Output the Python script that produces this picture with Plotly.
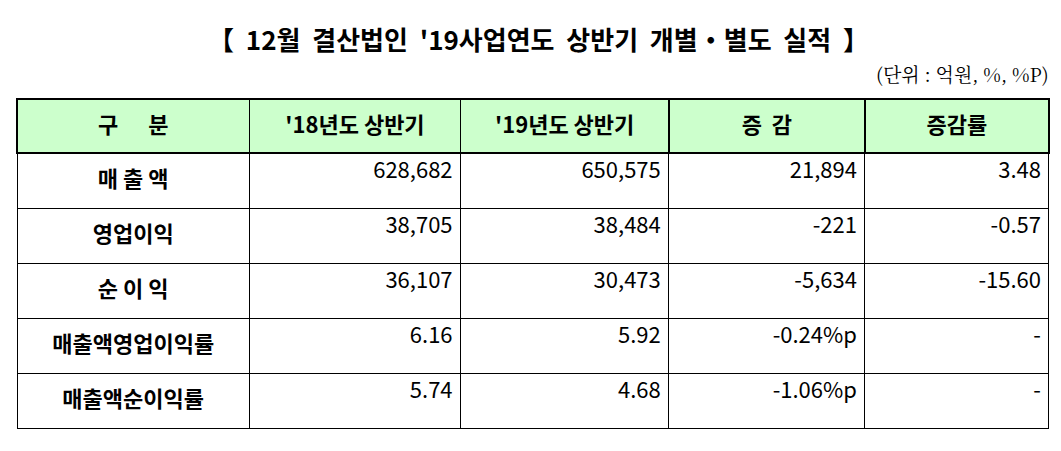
import plotly.graph_objects as go

headers = ["구      분", "'18년도 상반기", "'19년도 상반기", "증  감", "증감률"]
items = ["매 출 액", "영업이익", "순 이 익", "매출액영업이익률", "매출액순이익률"]
h1_2018 = ["628,682", "38,705", "36,107", "6.16", "5.74"]
h1_2019 = ["650,575", "38,484", "30,473", "5.92", "4.68"]
change = ["21,894", "-221", "-5,634", "-0.24%p", "-1.06%p"]
rate = ["3.48", "-0.57", "-15.60", "-", "-"]

font = "Noto Sans CJK KR"
W, H = 1061, 451

fig = go.Figure(go.Table(
    domain=dict(x=[9 / W, 1041 / W], y=[1 - 425 / H, 1 - 91 / H]),
    columnwidth=[231, 210, 207, 195, 183],
    header=dict(
        values=[f"<b>{h}</b>" for h in headers],
        fill_color="#ccffcc", line=dict(color="black", width=1.5),
        align="center", height=54,
        font=dict(family=font, size=22, color="black"),
    ),
    cells=dict(
        values=[[f"<b>{i}</b>" for i in items], h1_2018, h1_2019, change, rate],
        fill_color="white", line=dict(color="black", width=1),
        align=["center", "right", "right", "right", "right"], height=55,
        font=dict(family=font, size=22, color="black"),
    ),
))

fig.update_layout(
    width=W, height=H, margin=dict(l=0, r=0, t=0, b=0),
    paper_bgcolor="white",
    annotations=[
        dict(text="<b>【  12월  결산법인  '19사업연도  상반기  개별‧별도  실적  】</b>",
             x=0.5, y=1 - 10 / H, xref="paper", yref="paper", showarrow=False,
             font=dict(family=font, size=26, color="black")),
        dict(text="(단위 : 억원, %, %P)", x=1043 / W, y=1 - 50 / H,
             xref="paper", yref="paper", xanchor="right", showarrow=False,
             font=dict(family="Noto Serif CJK KR, " + font, size=19, color="black")),
    ],
)

fig.write_html("out.html")
